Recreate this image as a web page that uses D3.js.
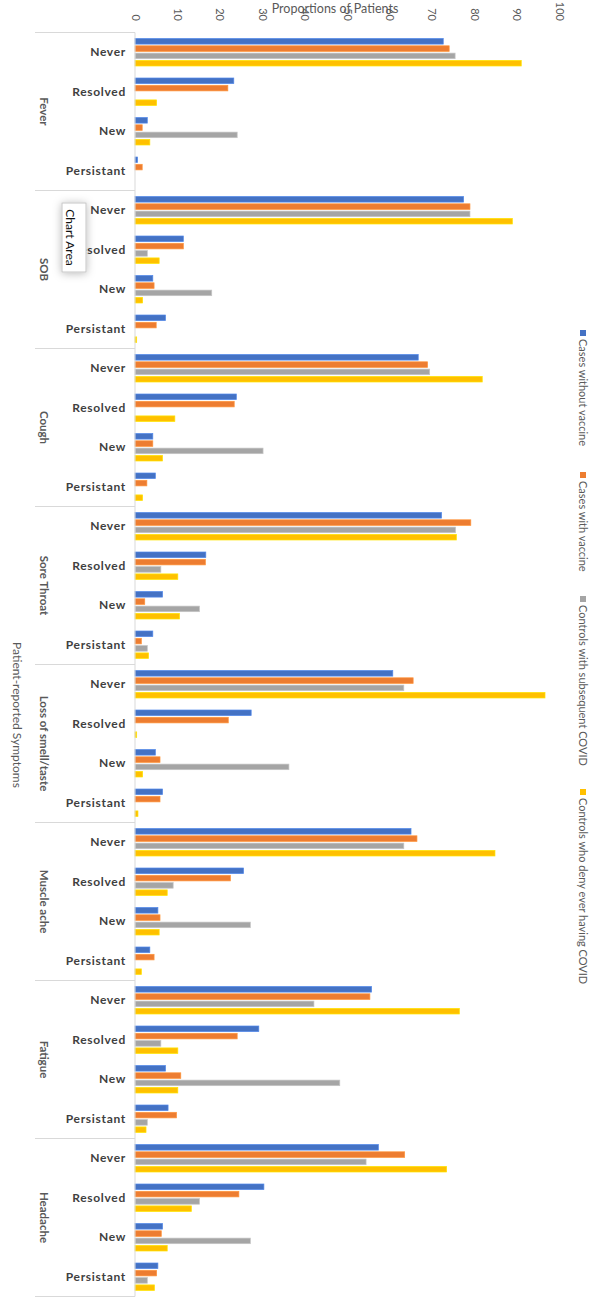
<!DOCTYPE html>
<html><head><meta charset="utf-8">
<script src="https://cdn.jsdelivr.net/npm/d3@7"></script>
<style>
html,body{margin:0;padding:0;background:#fff;}
svg{display:block;}
text{font-family:Lato,"Open Sans",sans-serif;}
</style></head><body>
<svg id="chart" width="602" height="1304"></svg>
<script>
const symptoms = ["Fever","SOB","Cough","Sore Throat","Loss of smell/taste","Muscle ache","Fatigue","Headache"];
const statuses = ["Never","Resolved","New","Persistant"];
const seriesNames = ["Cases without vaccine","Cases with vaccine","Controls with subsequent COVID","Controls who deny ever having COVID"];
const seriesColors = ["#4472C4","#ED7D31","#A5A5A5","#FFC000"];
const tickValues = [0,10,20,30,40,50,60,70,80,90,100];
const xTitle = "Proportions of Patients";
const yTitle = "Patient-reported Symptoms";

// values: symptom-major order, statuses Never, Resolved, New, Persistant
const casesWithoutVaccine = [72.7,23.3,2.9,0.6, 77.5,11.4,4.2,7.2, 66.8,23.9,4.2,4.8, 72.3,16.7,6.5,4.2, 60.8,27.4,4.8,6.5, 65.1,25.6,5.4,3.5, 55.8,29.2,7.2,7.8, 57.4,30.4,6.5,5.4];
const casesWithVaccine    = [74.1,21.9,1.7,1.7, 79.0,11.4,4.5,5.0, 69.0,23.4,4.2,2.8, 79.2,16.6,2.3,1.5, 65.6,22.0,5.9,5.9, 66.5,22.5,5.9,4.5, 55.4,24.1,10.8,9.8, 63.6,24.5,6.2,5.1];
const controlsSubsequent  = [75.5,0,24.1,0, 79.0,2.9,18.1,0, 69.5,0,30.2,0, 75.6,6.1,15.2,2.9, 63.4,0,36.3,0, 63.4,9.0,27.2,0, 42.2,6.1,48.3,2.9, 54.5,15.2,27.2,2.9];
const controlsDeny        = [91.1,5.1,3.5,0, 89.0,5.7,1.8,0.4, 81.9,9.4,6.5,1.8, 75.8,10.1,10.5,3.2, 96.7,0.4,1.8,0.7, 84.9,7.6,5.7,1.5, 76.5,10.1,10.1,2.6, 73.5,13.3,7.6,4.6];
const seriesValues = [casesWithoutVaccine, casesWithVaccine, controlsSubsequent, controlsDeny];

const svg = d3.select("#chart");
const defs = svg.append("defs");
const f = defs.append("filter").attr("id","shadow").attr("x","-80%").attr("y","-30%").attr("width","260%").attr("height","160%");
f.append("feDropShadow").attr("dx",0).attr("dy",1).attr("stdDeviation",4).attr("flood-color","#000").attr("flood-opacity",0.28);

const x = d3.scaleLinear().domain([0,100]).range([135,559]);
const yGroup = d3.scaleBand().domain(symptoms).range([32.5,1296.5]);
const yStatus = d3.scaleBand().domain(statuses).range([0,yGroup.bandwidth()]);
const ySeries = d3.scaleBand().domain(seriesNames).range([0,yStatus.bandwidth()]).paddingInner(0.233).paddingOuter(0.822);
const color = d3.scaleOrdinal().domain(seriesNames).range(seriesColors);

// rows
const rows = [];
symptoms.forEach((s,si)=>statuses.forEach((st,ti)=>{
  seriesNames.forEach((n,ni)=>rows.push({s,st,n,v:seriesValues[ni][si*4+ti]}));
}));

// bars
svg.append("g").selectAll("rect").data(rows.filter(d=>d.v>0)).join("rect")
  .attr("x", x(0))
  .attr("y", d=>yGroup(d.s)+yStatus(d.st)+ySeries(d.n))
  .attr("width", d=>x(d.v)-x(0))
  .attr("height", ySeries.bandwidth())
  .attr("fill", d=>color(d.n))
  .attr("stroke", d=>d3.color(color(d.n)).brighter(0.5))
  .attr("stroke-width",0.7);

// category axis line and group dividers
const ax = svg.append("g").attr("stroke","#d9d9d9").attr("stroke-width",1);
ax.append("line").attr("x1",135).attr("x2",135).attr("y1",yGroup.range()[0]).attr("y2",yGroup.range()[1]);
const bounds = symptoms.map(s=>yGroup(s)).concat([yGroup.range()[1]]);
ax.selectAll(".div").data(bounds).join("line")
  .attr("x1",35).attr("x2",135).attr("y1",d=>d).attr("y2",d=>d);

// status labels
svg.append("g").selectAll("text").data(symptoms.flatMap(s=>statuses.map(st=>({s,st})))).join("text")
  .attr("x",126)
  .attr("y",d=>yGroup(d.s)+yStatus(d.st)+yStatus.bandwidth()/2)
  .attr("dy","0.35em").attr("text-anchor","end")
  .attr("font-size",12).attr("font-weight",700).attr("letter-spacing",0.7)
  .attr("fill","#404040").text(d=>d.st);

// group labels (rotated)
svg.append("g").selectAll("text").data(symptoms).join("text")
  .attr("transform",d=>`translate(40,${yGroup(d)+yGroup.bandwidth()/2}) rotate(90)`)
  .attr("text-anchor","middle").attr("font-size",11.5).attr("font-weight",700)
  .attr("fill","#595959").text(d=>d);

// value axis (top)
const xAxis = svg.append("g").attr("transform","translate(0,21)")
  .call(d3.axisTop(x).tickValues(tickValues).tickSize(0).tickPadding(0));
xAxis.select(".domain").remove();
xAxis.selectAll("text")
  .attr("x",0).attr("y",0).attr("dy","0.35em")
  .attr("text-anchor","end").attr("transform","rotate(90)")
  .attr("font-family","Lato").attr("font-size",11).attr("fill","#595959");

// axis titles
svg.append("text").attr("x",335).attr("y",12.5).attr("text-anchor","middle")
  .attr("font-size",12.5).attr("fill","#595959").text(xTitle);
svg.append("text").attr("transform","translate(12.5,715) rotate(90)").attr("text-anchor","middle")
  .attr("font-size",12).attr("fill","#595959").text(yTitle);

// legend
const legendStarts = [330,472,596,789];
const lg = svg.append("g").selectAll("g").data(seriesNames).join("g")
  .attr("transform",(d,i)=>`translate(583,${legendStarts[i]})`);
lg.append("rect").attr("x",-3).attr("y",0).attr("width",6).attr("height",6).attr("fill",d=>color(d));
lg.append("text").attr("transform","translate(0,9) rotate(90)").attr("dy","0.35em")
  .attr("font-size",11).attr("fill","#595959").text(d=>d);

// "Chart Area" tooltip
const tip = svg.append("g");
tip.append("rect").attr("x",62).attr("y",203).attr("width",24).attr("height",69)
  .attr("fill","#fff").attr("stroke","#c6c6c6").attr("stroke-width",1).attr("filter","url(#shadow)");
tip.append("text").attr("transform","translate(66,237.5) rotate(90)").attr("text-anchor","middle")
  .attr("font-family","'Noto Sans',sans-serif").attr("font-size",12).attr("fill","#111").text("Chart Area");
</script>
</body></html>
